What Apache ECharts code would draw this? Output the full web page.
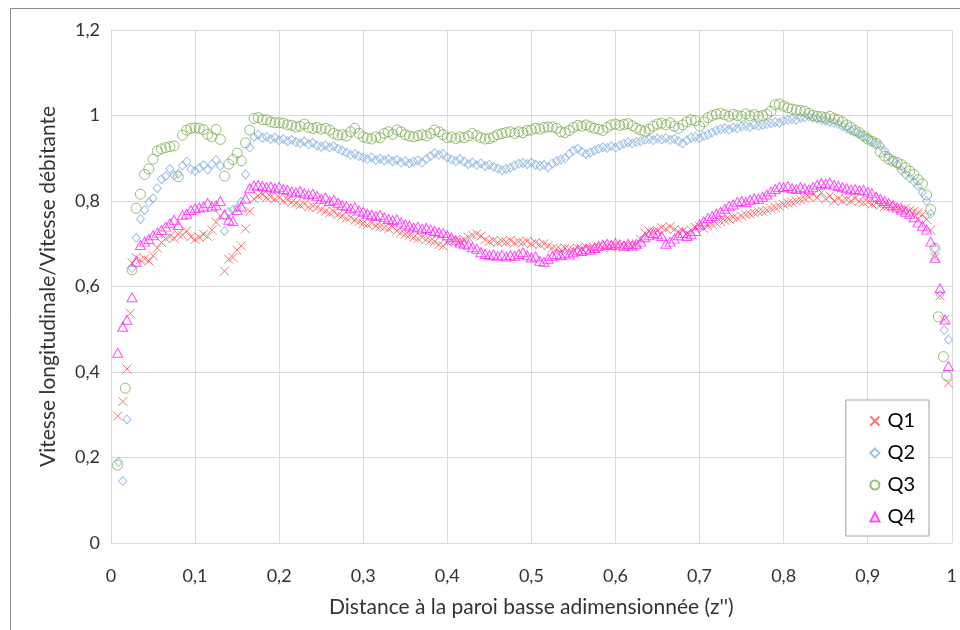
<!DOCTYPE html>
<html>
<head>
<meta charset="utf-8">
<script src="https://cdn.jsdelivr.net/npm/echarts@6/dist/echarts.min.js"></script>
<style>
html,body{margin:0;padding:0;background:#fff;}
#chart{width:960px;height:630px;}
</style>
</head>
<body>
<div id="chart"></div>
<script>
// Shared measurement positions z'' (core region)
const zGrid = [
0.025,0.03,0.035,0.04,0.045,0.05,0.055,0.06,0.065,0.07,
0.075,0.08,0.085,0.09,0.095,0.1,0.105,0.11,0.115,0.12,
0.125,0.13,0.135,0.14,0.145,0.15,0.155,0.16,0.165,0.17,
0.175,0.18,0.185,0.19,0.195,0.2,0.205,0.21,0.215,0.22,
0.225,0.23,0.235,0.24,0.245,0.25,0.255,0.26,0.265,0.27,
0.275,0.28,0.285,0.29,0.295,0.3,0.305,0.31,0.315,0.32,
0.325,0.33,0.335,0.34,0.345,0.35,0.355,0.36,0.365,0.37,
0.375,0.38,0.385,0.39,0.395,0.4,0.405,0.41,0.415,0.42,
0.425,0.43,0.435,0.44,0.445,0.45,0.455,0.46,0.465,0.47,
0.475,0.48,0.485,0.49,0.495,0.5,0.505,0.51,0.515,0.52,
0.525,0.53,0.535,0.54,0.545,0.55,0.555,0.56,0.565,0.57,
0.575,0.58,0.585,0.59,0.595,0.6,0.605,0.61,0.615,0.62,
0.625,0.63,0.635,0.64,0.645,0.65,0.655,0.66,0.665,0.67,
0.675,0.68,0.685,0.69,0.695,0.7,0.705,0.71,0.715,0.72,
0.725,0.73,0.735,0.74,0.745,0.75,0.755,0.76,0.765,0.77,
0.775,0.78,0.785,0.79,0.795,0.8,0.805,0.81,0.815,0.82,
0.825,0.83,0.835,0.84,0.845,0.85,0.855,0.86,0.865,0.87,
0.875,0.88,0.885,0.89,0.895,0.9,0.905,0.91,0.915,0.92,
0.925,0.93,0.935,0.94,0.945,0.95,0.955,0.96,0.965,0.97,
0.975,0.98
];

const q1Values = [
0.655,0.668,0.662,0.665,0.66,0.672,0.69,0.703,0.712,0.717,
0.713,0.722,0.72,0.73,0.716,0.71,0.715,0.722,0.717,0.732,
0.75,0.765,0.636,0.664,0.668,0.685,0.695,0.735,0.776,0.805,
0.812,0.815,0.808,0.81,0.805,0.808,0.80,0.803,0.797,0.795,
0.79,0.793,0.786,0.788,0.785,0.78,0.776,0.772,0.775,0.768,
0.765,0.76,0.762,0.755,0.752,0.748,0.745,0.748,0.742,0.74,
0.738,0.735,0.74,0.73,0.726,0.722,0.72,0.715,0.712,0.715,
0.71,0.708,0.705,0.698,0.695,0.703,0.708,0.71,0.705,0.71,
0.715,0.72,0.723,0.718,0.71,0.705,0.708,0.703,0.706,0.704,
0.708,0.702,0.705,0.703,0.706,0.70,0.703,0.698,0.70,0.695,
0.69,0.688,0.686,0.69,0.688,0.685,0.69,0.688,0.692,0.689,
0.69,0.693,0.69,0.695,0.692,0.697,0.695,0.692,0.696,0.694,
0.70,0.71,0.725,0.73,0.728,0.732,0.738,0.735,0.74,0.733,
0.728,0.73,0.725,0.732,0.738,0.74,0.736,0.742,0.745,0.748,
0.752,0.755,0.758,0.762,0.76,0.765,0.768,0.77,0.772,0.775,
0.776,0.779,0.782,0.785,0.788,0.792,0.795,0.797,0.80,0.803,
0.806,0.81,0.815,0.808,0.82,0.805,0.812,0.80,0.806,0.80,
0.803,0.80,0.806,0.80,0.797,0.798,0.793,0.795,0.79,0.787,
0.789,0.784,0.786,0.781,0.783,0.778,0.776,0.772,0.768,0.757,
0.732,0.668
];
const q1Left = [[0.008,0.297],[0.014,0.331],[0.019,0.407],[0.023,0.537]];
const q1Right = [[0.986,0.578],[0.991,0.522],[0.996,0.374]];

const q2Values = [
0.643,0.714,0.758,0.779,0.797,0.806,0.83,0.851,0.858,0.875,
0.86,0.864,0.883,0.892,0.874,0.87,0.877,0.884,0.873,0.886,
0.896,0.882,0.73,0.774,0.779,0.784,0.798,0.862,0.925,0.95,
0.955,0.948,0.95,0.945,0.948,0.942,0.945,0.94,0.943,0.938,
0.935,0.94,0.933,0.936,0.93,0.927,0.93,0.925,0.928,0.922,
0.918,0.913,0.908,0.91,0.905,0.902,0.898,0.902,0.896,0.899,
0.895,0.898,0.893,0.896,0.89,0.893,0.888,0.892,0.895,0.89,
0.898,0.905,0.912,0.908,0.91,0.902,0.897,0.893,0.898,0.892,
0.886,0.89,0.884,0.888,0.882,0.885,0.88,0.876,0.872,0.875,
0.878,0.883,0.887,0.889,0.886,0.89,0.885,0.882,0.884,0.879,
0.888,0.893,0.897,0.90,0.91,0.918,0.922,0.915,0.91,0.913,
0.918,0.922,0.926,0.924,0.928,0.925,0.93,0.934,0.937,0.935,
0.938,0.94,0.943,0.945,0.942,0.946,0.944,0.947,0.943,0.945,
0.94,0.935,0.942,0.948,0.95,0.947,0.952,0.955,0.96,0.965,
0.968,0.97,0.967,0.972,0.97,0.974,0.976,0.973,0.978,0.976,
0.978,0.98,0.982,0.985,0.983,0.988,0.99,0.992,0.99,0.995,
0.996,0.998,0.995,0.993,0.99,0.988,0.985,0.983,0.98,0.975,
0.97,0.965,0.962,0.957,0.952,0.948,0.94,0.935,0.93,0.918,
0.905,0.895,0.885,0.872,0.862,0.853,0.845,0.835,0.82,0.80,
0.77,0.69
];
const q2Left = [[0.009,0.19],[0.014,0.145],[0.019,0.289]];
const q2Right = [[0.986,0.58],[0.991,0.498],[0.996,0.476]];

const q3Values = [
0.639,0.783,0.816,0.862,0.875,0.898,0.917,0.922,0.925,0.927,
0.929,0.857,0.954,0.966,0.970,0.971,0.970,0.967,0.956,0.95,
0.967,0.944,0.858,0.886,0.897,0.912,0.894,0.936,0.966,0.993,
0.995,0.99,0.99,0.985,0.983,0.983,0.982,0.978,0.977,0.973,
0.975,0.98,0.972,0.97,0.972,0.968,0.97,0.966,0.958,0.954,
0.955,0.952,0.962,0.97,0.958,0.95,0.947,0.945,0.95,0.948,
0.958,0.962,0.956,0.966,0.962,0.955,0.952,0.95,0.953,0.955,
0.952,0.958,0.966,0.962,0.955,0.948,0.95,0.946,0.95,0.948,
0.952,0.958,0.953,0.948,0.945,0.946,0.95,0.955,0.958,0.96,
0.962,0.958,0.962,0.96,0.965,0.966,0.97,0.968,0.972,0.973,
0.973,0.97,0.962,0.96,0.965,0.972,0.977,0.975,0.978,0.974,
0.97,0.968,0.965,0.972,0.978,0.98,0.977,0.979,0.981,0.976,
0.97,0.966,0.963,0.968,0.975,0.98,0.982,0.978,0.983,0.975,
0.97,0.978,0.985,0.99,0.988,0.975,0.985,0.995,1.0,1.003,
1.005,1.002,0.998,1.003,1.0,0.998,1.004,0.999,1.002,0.998,
1.0,1.003,1.01,1.025,1.027,1.022,1.018,1.015,1.013,1.012,
1.01,1.005,1.0,0.998,0.997,0.995,0.998,0.993,0.99,0.985,
0.978,0.972,0.965,0.96,0.952,0.945,0.94,0.935,0.915,0.905,
0.898,0.893,0.89,0.885,0.878,0.87,0.862,0.85,0.84,0.814,
0.78,0.69
];
const q3Left = [[0.0075,0.182],[0.017,0.362]];
const q3Right = [[0.984,0.529],[0.99,0.436],[0.994,0.391]];

const q4Values = [
0.575,0.658,0.697,0.705,0.711,0.72,0.726,0.732,0.74,0.748,
0.756,0.744,0.767,0.77,0.779,0.783,0.785,0.787,0.795,0.787,
0.79,0.80,0.769,0.756,0.753,0.779,0.787,0.806,0.83,0.836,
0.838,0.835,0.832,0.834,0.83,0.833,0.828,0.826,0.822,0.82,
0.823,0.818,0.815,0.817,0.812,0.805,0.808,0.80,0.803,0.796,
0.79,0.788,0.783,0.785,0.778,0.775,0.77,0.768,0.765,0.767,
0.762,0.758,0.755,0.757,0.75,0.745,0.742,0.738,0.74,0.735,
0.737,0.733,0.73,0.727,0.725,0.72,0.715,0.708,0.703,0.70,
0.698,0.692,0.688,0.68,0.676,0.673,0.675,0.671,0.674,0.67,
0.673,0.672,0.676,0.68,0.673,0.668,0.67,0.66,0.658,0.665,
0.672,0.676,0.673,0.678,0.675,0.68,0.685,0.683,0.688,0.686,
0.69,0.695,0.698,0.70,0.697,0.702,0.698,0.695,0.70,0.696,
0.70,0.705,0.715,0.72,0.725,0.722,0.718,0.70,0.705,0.712,
0.72,0.725,0.718,0.722,0.73,0.745,0.752,0.76,0.765,0.77,
0.775,0.782,0.788,0.792,0.798,0.80,0.797,0.803,0.806,0.805,
0.81,0.815,0.822,0.828,0.833,0.832,0.835,0.83,0.828,0.832,
0.83,0.827,0.833,0.838,0.842,0.84,0.843,0.838,0.835,0.832,
0.83,0.827,0.828,0.825,0.826,0.822,0.818,0.81,0.805,0.80,
0.795,0.79,0.785,0.78,0.775,0.77,0.762,0.75,0.742,0.733,
0.705,0.667
];
const q4Left = [[0.008,0.445],[0.014,0.506],[0.019,0.522]];
const q4Right = [[0.986,0.596],[0.992,0.523],[0.996,0.414]];

const seriesNames = ['Q1','Q2','Q3','Q4'];
const xTicks = ['0','0,1','0,2','0,3','0,4','0,5','0,6','0,7','0,8','0,9','1'];
const yTicks = ['0','0,2','0,4','0,6','0,8','1','1,2'];

function build(left, vals, right){
  const out = left.slice();
  zGrid.forEach((x,i)=>out.push([x, vals[i]]));
  return out.concat(right);
}
const font = 'Lato, "Open Sans", sans-serif';
const crossPath = 'path://M0,0L10,10M10,0L0,10';

const chart = echarts.init(document.getElementById('chart'), null, {renderer:'canvas'});
chart.setOption({
  animation:false,
  backgroundColor:'#fff',
  graphic:[{type:'rect', shape:{x:10.5,y:8.5,width:1000,height:1000}, style:{fill:'none', stroke:'#8c8c8c', lineWidth:1}, silent:true}],
  grid:{left:111, right:8, top:30, bottom:87, containLabel:false},
  xAxis:{
    type:'value', min:0, max:1, interval:0.1,
    name:"Distance à la paroi basse adimensionnée (z'')",
    nameLocation:'middle', nameGap:54,
    nameTextStyle:{fontFamily:font, fontSize:21, color:'#333'},
    axisLine:{show:true, lineStyle:{color:'#d9d9d9'}},
    axisTick:{show:false},
    splitLine:{show:true, lineStyle:{color:'#d9d9d9', width:1}},
    axisLabel:{margin:24, fontFamily:font, fontSize:18, color:'#333',
      formatter:(v)=>xTicks[Math.round(v*10)]}
  },
  yAxis:{
    type:'value', min:0, max:1.2, interval:0.2,
    name:'Vitesse longitudinale/Vitesse débitante',
    nameLocation:'middle', nameGap:52, nameRotate:90,
    nameTextStyle:{fontFamily:font, fontSize:21, color:'#333'},
    axisLine:{show:true, lineStyle:{color:'#d9d9d9'}},
    axisTick:{show:false},
    splitLine:{show:true, lineStyle:{color:'#d9d9d9', width:1}},
    axisLabel:{margin:11, fontFamily:font, fontSize:18, color:'#333',
      formatter:(v)=>yTicks[Math.round(v*5)]}
  },
  legend:{
    orient:'vertical', right:31, bottom:94,
    itemGap:12, itemWidth:9, itemHeight:9,
    padding:[11,14,9,22],
    backgroundColor:'#fff', borderColor:'#a6a6a6', borderWidth:1,
    textStyle:{fontFamily:font, fontSize:20, color:'#000', padding:[0,0,0,3]},
    data:seriesNames
  },
  series:[
    {name:'Q1', type:'scatter', data:build(q1Left,q1Values,q1Right), symbol:crossPath, symbolSize:9,
      itemStyle:{color:'none', borderColor:'#ff5050', borderWidth:1}},
    {name:'Q2', type:'scatter', data:build(q2Left,q2Values,q2Right), symbol:'diamond', symbolSize:[8,9],
      itemStyle:{color:'none', borderColor:'#88b2e0', borderWidth:1}},
    {name:'Q3', type:'scatter', data:build(q3Left,q3Values,q3Right), symbol:'circle', symbolSize:10,
      itemStyle:{color:'none', borderColor:'#7fae55', borderWidth:1}},
    {name:'Q4', type:'scatter', data:build(q4Left,q4Values,q4Right), symbol:'triangle', symbolSize:[10,9],
      itemStyle:{color:'none', borderColor:'#ff22ff', borderWidth:1}}
  ]
});
</script>
</body>
</html>
